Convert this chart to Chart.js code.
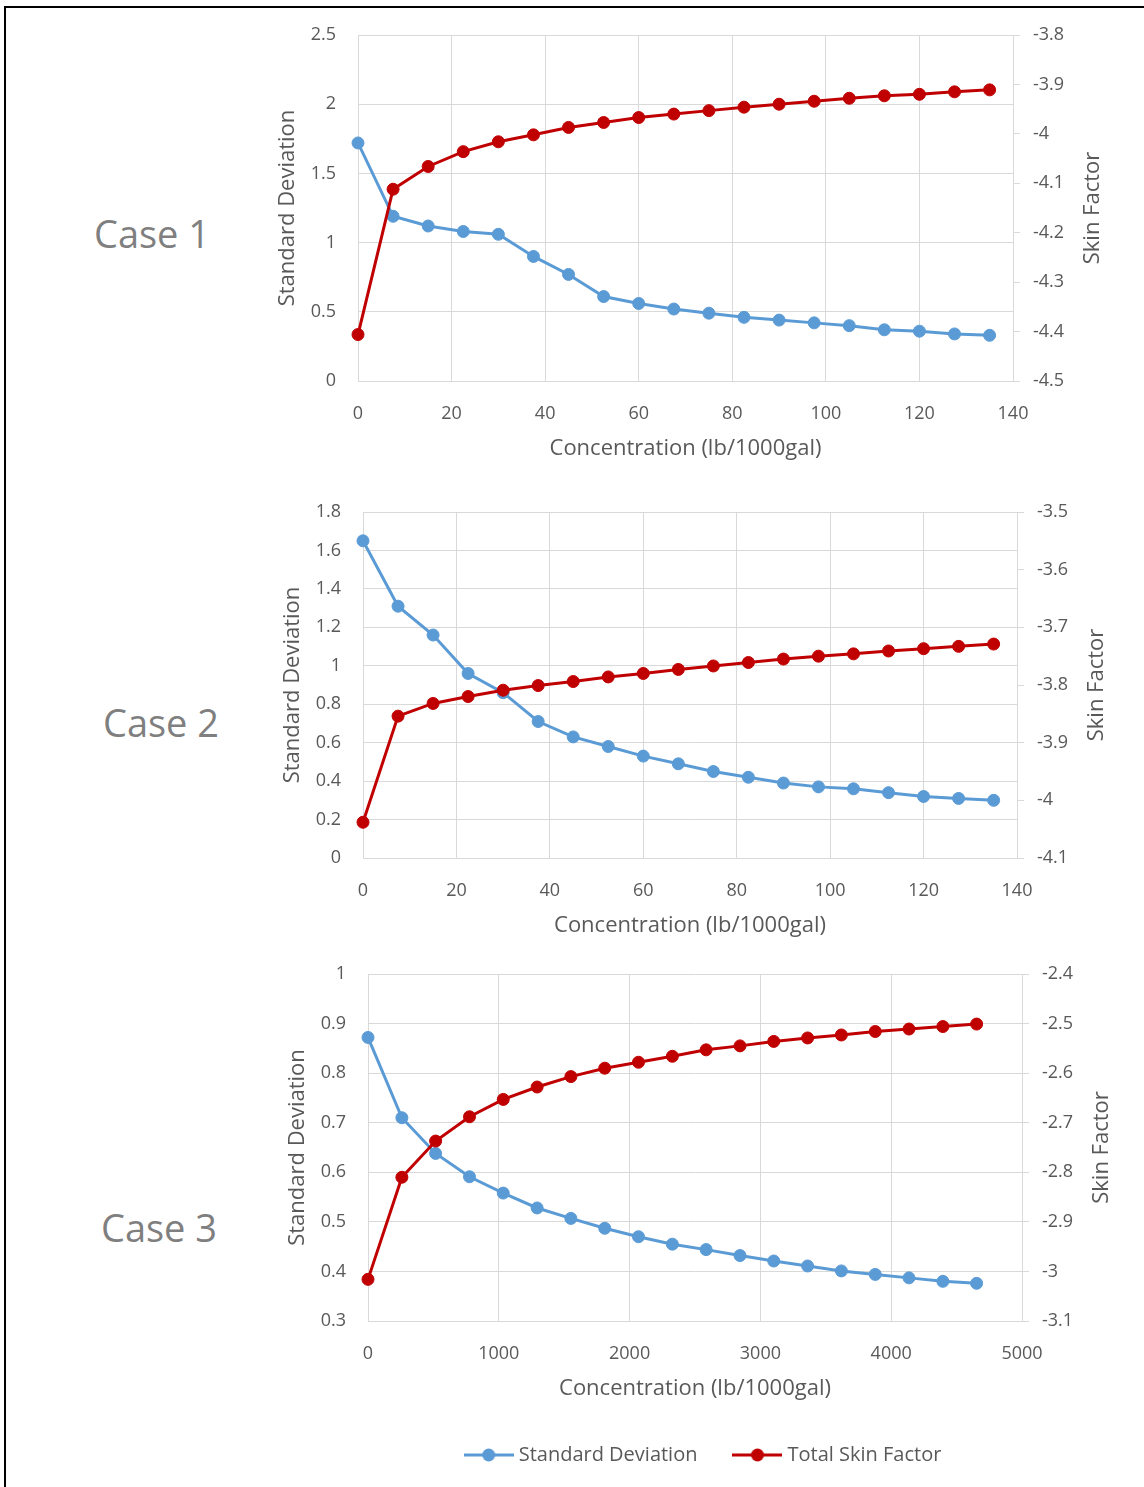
<!DOCTYPE html>
<html>
<head>
<meta charset="utf-8">
<script src="https://cdn.jsdelivr.net/npm/chart.js@4.4.1/dist/chart.umd.min.js"></script>
<style>
  html, body { margin: 0; padding: 0; background: #fff; }
  body { width: 1144px; height: 1487px; overflow: hidden; position: relative; font-family: 'Open Sans', sans-serif; }
  .frame-top { position: absolute; left: 4px; top: 6px; width: 1140px; height: 2px; background: #000; }
  .frame-left { position: absolute; left: 4px; top: 6px; width: 2px; height: 1481px; background: #000; }
  .case { position: absolute; font-size: 38px; color: #7f7f7f; line-height: 1; white-space: nowrap; transform: translate(-50%, -50%); }
  canvas { position: absolute; }
</style>
</head>
<body>
<div class="frame-top"></div>
<div class="frame-left"></div>
<div class="case" style="left:152px; top:233px;">Case 1</div>
<div class="case" style="left:161px; top:722px;">Case 2</div>
<div class="case" style="left:159px; top:1227px;">Case 3</div>
<canvas id="case1"></canvas>
<canvas id="case2"></canvas>
<canvas id="case3"></canvas>
<script>
// Concentration steps (lb/1000gal)
const concentration = [0, 7.5, 15, 22.5, 30, 37.5, 45, 52.5, 60, 67.5, 75, 82.5, 90, 97.5, 105, 112.5, 120, 127.5, 135];
const concentrationCase3 = [0, 259, 517, 776, 1034, 1293, 1551, 1810, 2068, 2327, 2585, 2844, 3102, 3361, 3619, 3878, 4136, 4395, 4653];

// Case 1
const case1StdDev = [1.72, 1.19, 1.12, 1.08, 1.06, 0.90, 0.77, 0.61, 0.56, 0.52, 0.49, 0.46, 0.44, 0.42, 0.40, 0.37, 0.36, 0.34, 0.33];
const case1Skin = [-4.406, -4.112, -4.066, -4.036, -4.016, -4.002, -3.987, -3.977, -3.967, -3.960, -3.953, -3.946, -3.940, -3.934, -3.928, -3.923, -3.920, -3.915, -3.911];

// Case 2
const case2StdDev = [1.65, 1.31, 1.16, 0.96, 0.86, 0.71, 0.63, 0.58, 0.53, 0.49, 0.45, 0.42, 0.39, 0.37, 0.36, 0.34, 0.32, 0.31, 0.30];
const case2Skin = [-4.038, -3.854, -3.832, -3.820, -3.809, -3.801, -3.794, -3.786, -3.780, -3.773, -3.767, -3.761, -3.755, -3.750, -3.746, -3.741, -3.737, -3.733, -3.729];

// Case 3
const case3StdDev = [0.872, 0.710, 0.638, 0.591, 0.558, 0.528, 0.507, 0.487, 0.470, 0.455, 0.444, 0.432, 0.421, 0.411, 0.401, 0.394, 0.387, 0.380, 0.376];
const case3Skin = [-3.016, -2.810, -2.737, -2.688, -2.653, -2.628, -2.607, -2.590, -2.578, -2.566, -2.553, -2.545, -2.536, -2.529, -2.523, -2.516, -2.511, -2.506, -2.501];

// Axis tick labels
const xTicksLb = [0, 20, 40, 60, 80, 100, 120, 140];
const xTicksCase3 = [0, 1000, 2000, 3000, 4000, 5000];
const case1SdTicks = [0, 0.5, 1, 1.5, 2, 2.5];
const case1SkinTicks = [-4.5, -4.4, -4.3, -4.2, -4.1, -4, -3.9, -3.8];
const case2SdTicks = [0, 0.2, 0.4, 0.6, 0.8, 1, 1.2, 1.4, 1.6, 1.8];
const case2SkinTicks = [-4.1, -4, -3.9, -3.8, -3.7, -3.6, -3.5];
const case3SdTicks = [0.3, 0.4, 0.5, 0.6, 0.7, 0.8, 0.9, 1];
const case3SkinTicks = [-3.1, -3, -2.9, -2.8, -2.7, -2.6, -2.5, -2.4];

const seriesNames = ['Standard Deviation', 'Total Skin Factor'];
const axisNames = { x: 'Concentration (lb/1000gal)', left: 'Standard Deviation', right: 'Skin Factor' };

const BLUE = '#5B9BD5';
const RED = '#C00000';
const GRID = '#d9d9d9';
const TEXT = '#595959';
const LEGEND_PAD = 40;

Chart.defaults.font.family = "'Open Sans', sans-serif";
Chart.defaults.color = TEXT;

const fixedTicks = list => scale => { scale.ticks = list.map(v => ({ value: v })); };
const fmt = v => String(Math.round(v * 1000) / 1000);

// Axis titles drawn relative to the plot area
const axisTitlePlugin = {
  id: 'axisTitles',
  afterDraw(chart, args, opts) {
    const { ctx, chartArea: a } = chart;
    ctx.save();
    ctx.fillStyle = TEXT;
    ctx.font = "22px 'Open Sans'";
    ctx.textAlign = 'center';
    ctx.textBaseline = 'middle';
    ctx.fillText(opts.x, (a.left + a.right) / 2, a.bottom + opts.xGap);
    const cy = (a.top + a.bottom) / 2;
    [[opts.left, a.left - opts.leftGap], [opts.right, a.right + opts.rightGap]].forEach(([t, x]) => {
      ctx.save();
      ctx.translate(x, cy);
      ctx.rotate(-Math.PI / 2);
      ctx.fillText(t, 0, 0);
      ctx.restore();
    });
    ctx.restore();
  }
};

// Legend marker: a short line with a round marker on it
function legendMarker(color) {
  const c = document.createElement('canvas');
  c.width = 50; c.height = 14;
  const g = c.getContext('2d');
  g.strokeStyle = color; g.lineWidth = 3;
  g.beginPath(); g.moveTo(0, 7); g.lineTo(50, 7); g.stroke();
  g.fillStyle = color;
  g.beginPath(); g.arc(25, 7, 6.5, 0, Math.PI * 2); g.fill();
  return c;
}

function series(label, xs, ys, color, axis, order) {
  return {
    label, yAxisID: axis, order, clip: false,
    data: xs.map((x, i) => ({ x, y: ys[i] })),
    borderColor: color, backgroundColor: color,
    pointBackgroundColor: color, pointBorderColor: color
  };
}

// Vertical axes: fixed width, no extra label overflow padding
const fitVertical = w => s => { s.width = w; s.paddingTop = 0; s.paddingBottom = 0; };

function buildChart(id, frame, area, xs, sd, skin, xTicks, sdTicks, skinTicks, showLegend) {
  const cv = document.getElementById(id);
  cv.width = frame.w; cv.height = frame.h;
  cv.style.left = frame.x + 'px'; cv.style.top = frame.y + 'px';
  const padLeft = showLegend ? 20 : 0;
  const legendH = showLegend ? 30 + LEGEND_PAD : 0;
  const tickFont = { size: 18 };
  return new Chart(cv, {
    type: 'line',
    data: {
      datasets: [
        series(seriesNames[0], xs, sd, BLUE, 'ySd', 2),
        series(seriesNames[1], xs, skin, RED, 'ySkin', 1)
      ]
    },
    options: {
      responsive: false,
      animation: false,
      events: [],
      layout: { padding: { top: area.top - frame.y, left: padLeft, right: 0, bottom: 0 } },
      elements: {
        line: { borderWidth: 3, tension: 0 },
        point: { radius: 6, borderWidth: 1 }
      },
      scales: {
        x: {
          type: 'linear', min: xTicks[0], max: xTicks[xTicks.length - 1],
          afterBuildTicks: fixedTicks(xTicks),
          afterFit: s => { s.height = frame.y + frame.h - legendH - area.bottom; s.paddingLeft = 0; s.paddingRight = 0; },
          grid: { color: GRID, drawTicks: false, lineWidth: 1 },
          border: { color: GRID },
          ticks: { padding: 22, color: TEXT, font: tickFont, callback: fmt, maxRotation: 0, autoSkip: false }
        },
        ySd: {
          position: 'left', min: sdTicks[0], max: sdTicks[sdTicks.length - 1],
          afterBuildTicks: fixedTicks(sdTicks),
          afterFit: fitVertical(area.left - frame.x - padLeft),
          grid: { color: GRID, drawTicks: false },
          border: { color: GRID },
          ticks: { padding: 22, color: TEXT, font: tickFont, callback: fmt, autoSkip: false }
        },
        ySkin: {
          position: 'right', min: skinTicks[0], max: skinTicks[skinTicks.length - 1],
          afterBuildTicks: fixedTicks(skinTicks),
          afterFit: fitVertical(frame.x + frame.w - area.right),
          grid: { drawOnChartArea: false, color: GRID, tickLength: 7, tickColor: GRID },
          border: { color: GRID },
          ticks: { padding: 13, color: TEXT, font: tickFont, callback: fmt, autoSkip: false }
        }
      },
      plugins: {
        tooltip: { enabled: false },
        legend: {
          display: showLegend,
          position: 'bottom',
          labels: {
            usePointStyle: true,
            pointStyleWidth: 40,
            padding: LEGEND_PAD,
            color: TEXT,
            font: { size: 20 },
            generateLabels: chart => chart.data.datasets.map((ds, i) => ({
              text: ds.label,
              pointStyle: legendMarker(ds.borderColor),
              fillStyle: ds.borderColor,
              strokeStyle: ds.borderColor,
              lineWidth: 0,
              hidden: false,
              fontColor: TEXT,
              datasetIndex: i
            }))
          }
        },
        axisTitles: { x: axisNames.x, left: axisNames.left, right: axisNames.right, xGap: 68, leftGap: 70, rightGap: 80 }
      }
    },
    plugins: [axisTitlePlugin]
  });
}

buildChart('case1', { x: 250, y: 15, w: 890, h: 455 }, { left: 358, top: 35, right: 1013, bottom: 381 },
  concentration, case1StdDev, case1Skin, xTicksLb, case1SdTicks, case1SkinTicks, false);
buildChart('case2', { x: 250, y: 490, w: 890, h: 455 }, { left: 363, top: 512, right: 1017, bottom: 858 },
  concentration, case2StdDev, case2Skin, xTicksLb, case2SdTicks, case2SkinTicks, false);
buildChart('case3', { x: 250, y: 950, w: 890, h: 525 }, { left: 368, top: 974, right: 1022, bottom: 1321 },
  concentrationCase3, case3StdDev, case3Skin, xTicksCase3, case3SdTicks, case3SkinTicks, true);
</script>
</body>
</html>
